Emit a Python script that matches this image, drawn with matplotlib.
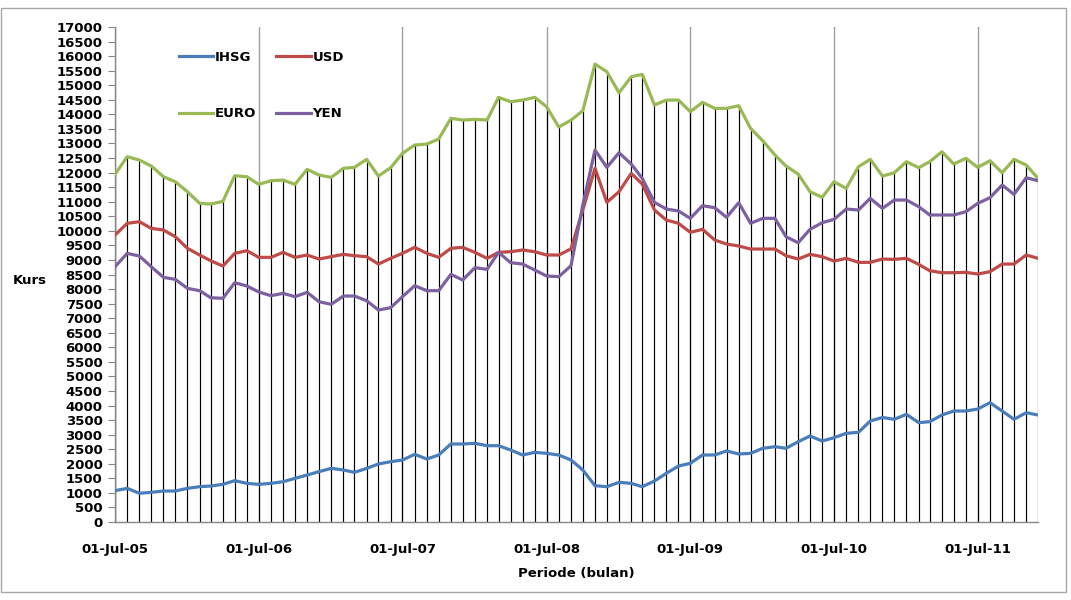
import matplotlib
matplotlib.use("Agg")
import matplotlib.pyplot as plt
import matplotlib.dates as mdates
from matplotlib.patches import Rectangle
import pandas as pd

# Monthly observations, July 2005 - December 2011
periods = pd.date_range("2005-07-01", periods=78, freq="MS")

ihsg = [1076, 1156, 985, 1019, 1064, 1064, 1156, 1213, 1236, 1293, 1419, 1327,
        1293, 1327, 1385, 1499, 1614, 1728, 1842, 1786, 1705, 1842, 1992, 2071,
        2129, 2323, 2163, 2301, 2679, 2679, 2702, 2621, 2621, 2472, 2301, 2392,
        2358, 2301, 2129, 1786, 1247, 1213, 1362, 1327, 1213, 1408, 1671, 1923,
        2015, 2301, 2301, 2440, 2335, 2358, 2530, 2587, 2530, 2758, 2953, 2781,
        2896, 3045, 3080, 3468, 3590, 3526, 3698, 3411, 3445, 3674, 3812, 3812,
        3880, 4097, 3812, 3526, 3754, 3674]

usd = [9856, 10257, 10314, 10085, 10027, 9798, 9398, 9169, 8973, 8790, 9226, 9318,
       9089, 9089, 9260, 9089, 9169, 9031, 9112, 9192, 9146, 9112, 8859, 9055,
       9226, 9433, 9226, 9089, 9398, 9433, 9260, 9055, 9260, 9283, 9341, 9283,
       9169, 9169, 9380, 10714, 12146, 10977, 11343, 11973, 11606, 10714, 10371, 10257,
       9948, 10051, 9684, 9547, 9478, 9375, 9375, 9375, 9146, 9031, 9192, 9112,
       8963, 9055, 8917, 8917, 9031, 9020, 9055, 8848, 8630, 8562, 8562, 8573,
       8516, 8596, 8859, 8859, 9169, 9055]

euro = [11940, 12545, 12431, 12225, 11858, 11686, 11343, 10943, 10920, 11012, 11892, 11858,
        11595, 11721, 11744, 11595, 12111, 11916, 11836, 12146, 12179, 12455, 11881, 12167,
        12660, 12946, 12980, 13152, 13862, 13805, 13828, 13805, 14583, 14433, 14491, 14583,
        14262, 13565, 13800, 14125, 15728, 15465, 14742, 15292, 15373, 14320, 14490, 14490,
        14090, 14412, 14206, 14206, 14297, 13519, 13094, 12603, 12225, 11950, 11343, 11150,
        11686, 11458, 12201, 12455, 11881, 11995, 12373, 12167, 12373, 12716, 12294, 12490,
        12179, 12407, 11995, 12455, 12259, 11802]

yen = [8767, 9226, 9134, 8767, 8402, 8333, 8024, 7944, 7703, 7681, 8218, 8104,
       7900, 7772, 7852, 7738, 7887, 7566, 7475, 7761, 7761, 7600, 7280, 7360,
       7738, 8115, 7944, 7944, 8505, 8311, 8734, 8677, 9260, 8905, 8859, 8654,
       8448, 8425, 8800, 10886, 12774, 12179, 12682, 12294, 11802, 10977, 10749, 10680,
       10429, 10863, 10794, 10463, 10966, 10257, 10429, 10429, 9798, 9592, 10051, 10280,
       10394, 10749, 10714, 11115, 10771, 11057, 11057, 10829, 10543, 10543, 10543, 10657,
       10943, 11137, 11573, 11252, 11824, 11721]

series_names = ["IHSG", "USD", "EURO", "YEN"]
series_colors = ["#4a7ebb", "#be4b48", "#98b954", "#7d60a0"]

plt.rcParams["font.family"] = ["DejaVu Sans"]
plt.rcParams["font.weight"] = "bold"

W, H = 1071, 600
fig = plt.figure(figsize=(W / 100, H / 100), dpi=100)
fig.patch.set_facecolor("white")

# outer chart-area frame
fig.add_artist(Rectangle((1 / W, 1 - 592 / H), 1065 / W, 584 / H,
                         transform=fig.transFigure, fill=False,
                         edgecolor="#a6a6a6", linewidth=1.0))

ax = fig.add_axes([115 / W, 1 - 522 / H, (1038 - 115) / W, (522 - 27) / H])

# drop lines from the highest series down to the axis
tops = [max(v) for v in zip(ihsg, usd, euro, yen)]
ax.vlines(periods, 0, tops, color="black", linewidth=0.85, zorder=1)

for vals, name, col in zip([ihsg, usd, euro, yen], series_names, series_colors):
    ax.plot(periods, vals, color=col, linewidth=2.3, label=name,
            solid_joinstyle="round", zorder=3)

ax.set_xlim(periods[0], periods[-1])
ax.set_ylim(0, 17000)
ax.set_yticks(range(0, 17001, 500))
ax.tick_params(axis="y", length=5, width=0.8, color="#868686", pad=4,
               labelsize=9.5)

ax.xaxis.set_major_locator(mdates.MonthLocator(bymonth=7, bymonthday=1))
ax.xaxis.set_major_formatter(mdates.DateFormatter("%d-%b-%y"))
ax.tick_params(axis="x", length=0, pad=15, labelsize=9.5)
ax.grid(axis="x", color="#a0a0a0", linewidth=1.0, zorder=0)
ax.set_axisbelow(True)

for side in ("top", "right"):
    ax.spines[side].set_visible(False)
for side in ("left", "bottom"):
    ax.spines[side].set_color("#868686")
    ax.spines[side].set_linewidth(1.0)

for lbl in ax.get_xticklabels() + ax.get_yticklabels():
    lbl.set_fontweight("bold")

fig.text(30 / W, 1 - 280 / H, "Kurs", ha="center", va="center",
         fontsize=9.5, fontweight="bold")
fig.text(576 / W, 1 - 573 / H, "Periode (bulan)", ha="center", va="center",
         fontsize=9.5, fontweight="bold")

handles, labels = ax.get_legend_handles_labels()
order = [0, 2, 1, 3]
leg = fig.legend([handles[i] for i in order], [labels[i] for i in order],
                 ncol=2, frameon=False, loc="upper left",
                 bbox_to_anchor=(167 / W, 1 - 39 / H),
                 prop={"size": 9.5, "weight": "bold"},
                 handlelength=2.6, handletextpad=0.15,
                 columnspacing=1.5, labelspacing=3.3)

fig.savefig("out.png", dpi=100, facecolor="white")
